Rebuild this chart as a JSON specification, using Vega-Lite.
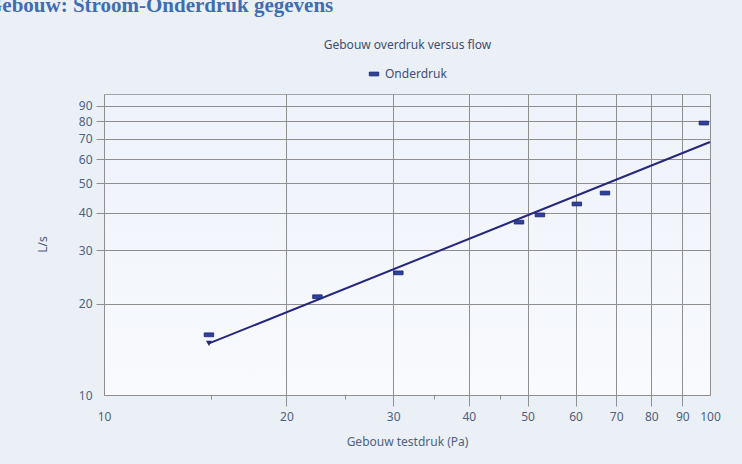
{
  "$schema": "https://vega.github.io/schema/vega-lite/v6.json",
  "width": 606,
  "height": 301,
  "autosize": {"type": "none"},
  "padding": {"left": 104, "top": 94, "right": 32, "bottom": 69},
  "background": "#ebf0f7",
  "title": {
    "text": "Gebouw: Stroom-Onderdruk gegevens",
    "anchor": "start",
    "frame": "group",
    "dx": -118,
    "offset": 5,
    "baseline": "alphabetic",
    "font": "Liberation Serif",
    "fontSize": 21,
    "fontWeight": "bold",
    "color": "#3f6db3"
  },
  "config": {
    "view": {
      "fill": {"gradient": "linear", "x1": 0, "y1": 0, "x2": 0, "y2": 1, "stops": [{"offset": 0, "color": "#eef2fa"}, {"offset": 1, "color": "#f8fafd"}]},
      "stroke": "#a3a3a3"
    },
    "font": "Noto Sans",
    "axis": {
      "labelFont": "Noto Sans",
      "labelFontSize": 12,
      "labelColor": "#50607e",
      "titleFont": "Noto Sans",
      "titleFontSize": 12,
      "titleColor": "#50607e",
      "titleFontWeight": "normal",
      "gridColor": "#8f8f8f",
      "gridOpacity": 1,
      "tickColor": "#8f8f8f",
      "domain": false
    }
  },
  "datasets": {
    "meting": [
      {"druk": 14.9, "debiet": 15.8, "serie": "Onderdruk"},
      {"druk": 22.5, "debiet": 21.1, "serie": "Onderdruk"},
      {"druk": 30.6, "debiet": 25.3, "serie": "Onderdruk"},
      {"druk": 48.4, "debiet": 37.2, "serie": "Onderdruk"},
      {"druk": 52.4, "debiet": 39.3, "serie": "Onderdruk"},
      {"druk": 60.3, "debiet": 42.7, "serie": "Onderdruk"},
      {"druk": 67.1, "debiet": 46.4, "serie": "Onderdruk"},
      {"druk": 97.7, "debiet": 79.0, "serie": "Onderdruk"}
    ],
    "lijn": [
      {"druk": 14.9, "debiet": 14.8},
      {"druk": 100, "debiet": 68.4}
    ]
  },
  "layer": [
    {
      "layer": [
        {
          "data": {"name": "lijn"},
          "mark": {"type": "line", "color": "#26267c", "strokeWidth": 2},
          "encoding": {
            "x": {"field": "druk", "type": "quantitative"},
            "y": {"field": "debiet", "type": "quantitative"}
          }
        },
        {
          "data": {"name": "lijn"},
          "transform": [{"filter": "datum.druk < 20"}],
          "mark": {"type": "point", "shape": "triangle-down", "filled": true, "color": "#26267c", "size": 35, "opacity": 1},
          "encoding": {
            "x": {"field": "druk", "type": "quantitative"},
            "y": {"field": "debiet", "type": "quantitative"}
          }
        },
        {
          "data": {"name": "meting"},
          "mark": {"type": "point", "shape": "M-1,-0.4H1V0.4H-1Z", "filled": true, "size": 90, "stroke": "#1b2270", "strokeWidth": 0.8, "opacity": 1},
          "encoding": {
            "x": {"field": "druk", "type": "quantitative"},
            "y": {"field": "debiet", "type": "quantitative"},
            "color": {
              "field": "serie",
              "type": "nominal",
              "scale": {"range": ["#2e4299"]},
              "legend": {
                "orient": "none",
                "legendX": 264,
                "legendY": -26,
                "title": null,
                "direction": "horizontal",
                "symbolType": "M-1,-0.4H1V0.4H-1Z",
                "symbolSize": 90,
                "symbolStrokeColor": "#1b2270",
                "symbolStrokeWidth": 0.8,
                "labelFont": "Noto Sans",
                "labelFontSize": 12,
                "labelColor": "#3e4e72",
                "labelOffset": 5
              }
            }
          }
        }
      ],
      "encoding": {
        "x": {
          "field": "druk",
          "type": "quantitative",
          "scale": {"type": "log", "domain": [10, 100], "nice": false},
          "axis": {
            "values": [10, 15, 20, 25, 30, 35, 40, 45, 50, 60, 70, 80, 90, 100],
            "labelExpr": "indexof([15,25,35,45], datum.value) >= 0 ? '' : datum.label",
            "tickSize": 11,
            "labelPadding": 5,
            "labelFlush": false,
            "labelOverlap": false,
            "tickDash": {"condition": {"test": "indexof([15,25,35,45], datum.value) >= 0", "value": [4, 30]}, "value": []},
            "tickOpacity": {"condition": {"test": "datum.value == 10 || datum.value == 100", "value": 0}, "value": 1},
            "gridOpacity": {"condition": {"test": "indexof([15,25,35,45], datum.value) >= 0", "value": 0}, "value": 1},
            "title": "Gebouw testdruk (Pa)",
            "titleY": 46,
            "titleBaseline": "middle"
          }
        },
        "y": {
          "field": "debiet",
          "type": "quantitative",
          "scale": {"type": "log", "domain": [10, 98.5], "nice": false},
          "axis": {
            "values": [10, 20, 30, 40, 50, 60, 70, 80, 90],
            "tickSize": 8,
            "labelPadding": 4,
            "labelFlush": false,
            "labelOverlap": false,
            "tickOpacity": {"condition": {"test": "datum.value == 10", "value": 0}, "value": 1},
            "title": "L/s",
            "titleX": -62,
            "titleY": 150,
            "titleAngle": -90,
            "titleAlign": "center",
            "titleBaseline": "middle"
          }
        }
      }
    },
    {
      "data": {"name": "lijn"},
      "mark": {"type": "point", "opacity": 0},
      "encoding": {
        "x": {
          "field": "druk",
          "type": "quantitative",
          "scale": {"type": "log", "domain": [10, 100], "nice": false},
          "axis": {
            "orient": "top",
            "title": "Gebouw overdruk versus flow",
            "labels": false,
            "ticks": false,
            "domain": false,
            "grid": false,
            "titleY": -50,
            "titleBaseline": "middle",
            "titleColor": "#3e4e72"
          }
        },
        "y": {"field": "debiet", "type": "quantitative", "scale": {"type": "log", "domain": [10, 98.5], "nice": false}}
      }
    }
  ],
  "resolve": {"axis": {"x": "independent"}}
}
